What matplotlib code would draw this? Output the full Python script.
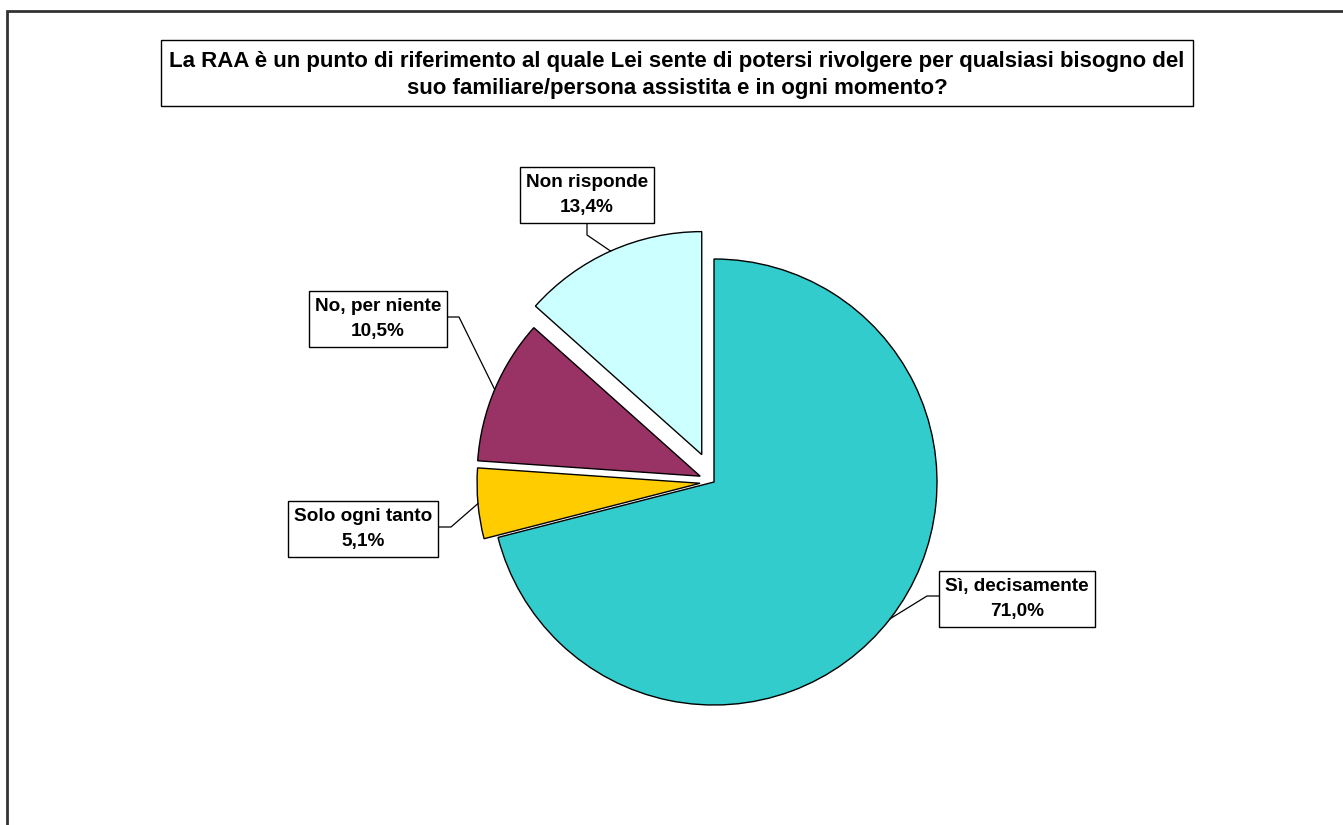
import numpy as np
import matplotlib.pyplot as plt
from matplotlib.patches import Rectangle

plt.rcParams["font.family"] = ["Liberation Sans", "DejaVu Sans"]

# Survey answers, clockwise from 12 o'clock
categories = ["Sì, decisamente", "Solo ogni tanto", "No, per niente", "Non risponde"]
percentages = [71.0, 5.1, 10.5, 13.4]
colors = ["#33CCCC", "#FFCC00", "#993366", "#CCFFFF"]
title = ("La RAA è un punto di riferimento al quale Lei sente di potersi rivolgere per qualsiasi bisogno del\n"
         "suo familiare/persona assistita e in ogni momento?")

W, H = 1343, 825
fig = plt.figure(figsize=(W / 100, H / 100), dpi=100)
ax = fig.add_axes([0, 0, 1, 1])

# outer chart frame (runs off the right and bottom)
ax.add_patch(Rectangle((7, -20), W + 40, H - 11 + 20, fill=False,
                       edgecolor="#333333", lw=2, clip_on=False))

# title box
ax.add_patch(Rectangle((161, H - 106), 1193 - 161, 66, fill=False,
                       edgecolor="black", lw=1))
ax.text(677, H - 75, title, ha="center", va="center", fontsize=16.0,
        fontweight="bold", linespacing=1.32)

# pie, in pixel units
cx, cy, r = 714, H - 482, 223
explode = [0, 14, 15, 30]
wedges, _ = ax.pie(percentages, colors=colors, startangle=90, counterclock=False,
                   center=(cx, cy), radius=r, explode=explode,
                   wedgeprops=dict(edgecolor="black", linewidth=1))
ax.set_xlim(0, W)
ax.set_ylim(0, H)
ax.set_aspect("equal")
ax.axis("off")

# label boxes: text centre, knee of leader line, box edge point
label_layout = [
    ((1017, 597), (927, 596), (940, 596)),
    ((363, 527), (451, 527), (437, 527)),
    ((378, 317), (459, 317), (447, 317)),
    ((587, 193), (587, 235), (587, 222)),
]

for w, cat, pct, (tc, knee, edge) in zip(wedges, categories, percentages, label_layout):
    mid = np.deg2rad((w.theta1 + w.theta2) / 2)
    ax_x = w.center[0] + w.r * np.cos(mid)
    ax_y = w.center[1] + w.r * np.sin(mid)
    ax.plot([ax_x, knee[0], edge[0]], [ax_y, H - knee[1], H - edge[1]],
            color="black", lw=0.9)
    ax.text(tc[0], H - tc[1] - 2, f"{cat}\n{pct:.1f}%".replace(".", ","),
            ha="center", va="center", fontsize=13.7, fontweight="bold",
            linespacing=1.65,
            bbox=dict(boxstyle="square,pad=0.33", facecolor="white",
                      edgecolor="black", lw=1))

fig.savefig("out.png", dpi=100, facecolor="white")
